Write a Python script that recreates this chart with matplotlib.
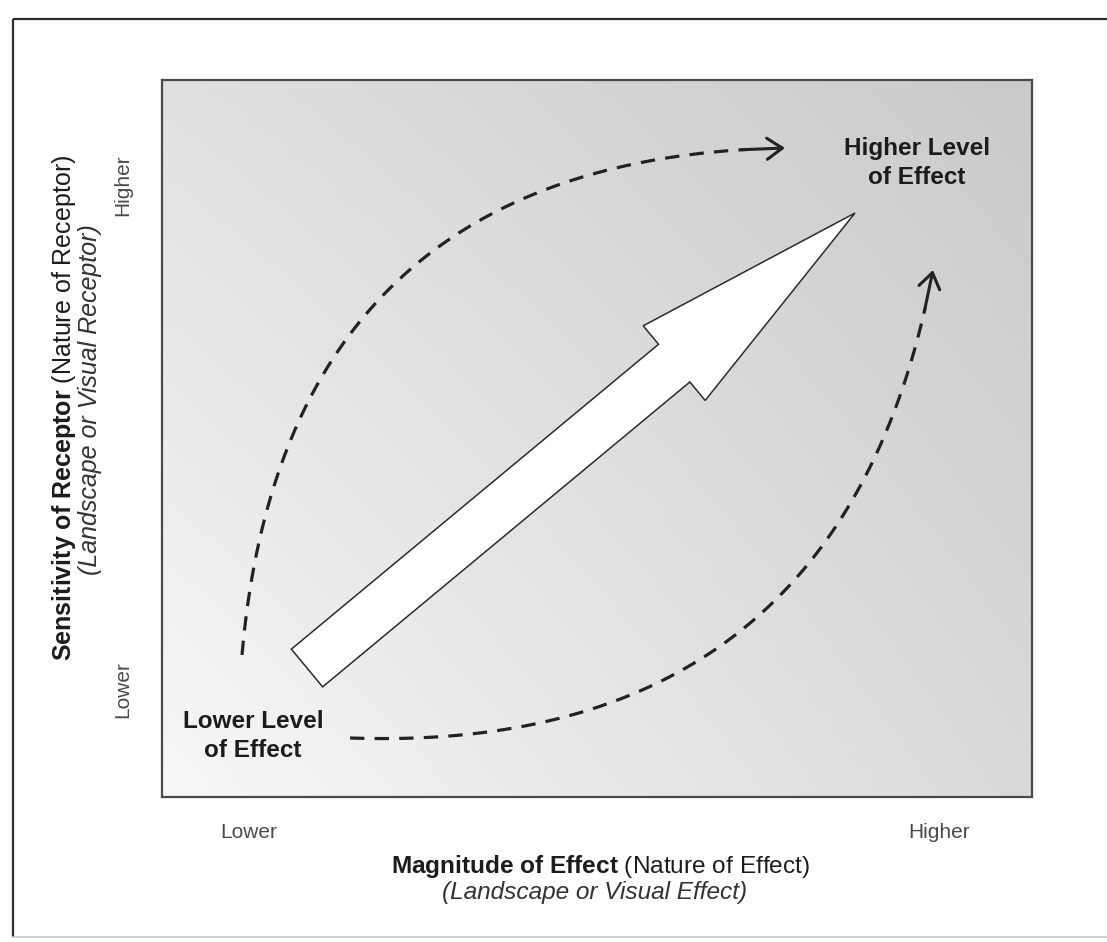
import numpy as np
import matplotlib
matplotlib.use("Agg")
import matplotlib.pyplot as plt
from matplotlib.patches import FancyArrow

plt.rcParams['font.family'] = ['Liberation Sans', 'DejaVu Sans']
plt.rcParams['mathtext.fontset'] = 'custom'
plt.rcParams['mathtext.rm'] = 'Liberation Sans'
plt.rcParams['mathtext.bf'] = 'Liberation Sans:bold'
plt.rcParams['mathtext.it'] = 'Liberation Sans:italic'

# wording of the diagram
x_ticks = ["Lower", "Higher"]
y_ticks = ["Lower", "Higher"]
x_title = r"$\mathbf{Magnitude\ of\ Effect}$ (Nature of Effect)"
x_sub = "(Landscape or Visual Effect)"
y_title = r"$\mathbf{Sensitivity\ of\ Receptor}$ (Nature of Receptor)"
y_sub = "(Landscape or Visual Receptor)"
corner_labels = ["Lower Level\nof Effect", "Higher Level\nof Effect"]

W, H = 1107, 942
fig = plt.figure(figsize=(W / 100, H / 100), dpi=100)

# background axes in pixel units (y down) for frame + text
bg = fig.add_axes([0, 0, 1, 1])
bg.set_xlim(0, W)
bg.set_ylim(H, 0)
bg.axis('off')

# outer frame: dark left/top, faint bottom, right edge cut off
bg.plot([13, 13], [19, 937], color='#2e2e2e', lw=1.6, solid_capstyle='butt')
bg.plot([13, W], [19, 19], color='#2e2e2e', lw=1.6, solid_capstyle='butt')
bg.plot([13, W], [937, 937], color='#c8c8c8', lw=1.2)

# plot box
x0, y0, x1, y1 = 162, 80, 1032, 797
bw, bh = x1 - x0, y1 - y0
ax = fig.add_axes([x0 / W, 1 - y1 / H, bw / W, bh / H])
ax.set_xlim(0, bw)
ax.set_ylim(0, bh)
ax.set_xticks([])
ax.set_yticks([])
for s in ax.spines.values():
    s.set_color('#4a4a4a')
    s.set_linewidth(1.6)

# diagonal grey gradient, light bottom-left -> darker top-right
U, V = np.meshgrid(np.linspace(0, 1, 200), np.linspace(0, 1, 200))
shade = 247 - 30 * U - 24 * V + 8 * U * V
ax.imshow(shade, cmap='gray', vmin=0, vmax=255, origin='lower',
          extent=(0, bw, 0, bh), aspect='auto', interpolation='bilinear')

# big hollow arrow
ax.add_patch(FancyArrow(145, 129, 548, 455, width=49, head_width=97,
                        head_length=235, length_includes_head=True,
                        fc='white', ec='#2b2b2b', lw=1.1, zorder=3))


def quad(p0, c, p1, n=300):
    t = np.linspace(0, 1, n)[:, None]
    p0, c, p1 = map(np.asarray, (p0, c, p1))
    return (1 - t) ** 2 * p0 + 2 * (1 - t) * t * c + t ** 2 * p1


curves = [((80, 142), (123, 640), (623, 649)),
          ((188, 59), (681, 42), (771, 527))]
for p0, c, p1 in curves:
    pts = quad(p0, c, p1)
    ax.plot(pts[:-12, 0], pts[:-12, 1], color='#222222', lw=2.3,
            linestyle=(0, (4.5, 3.2)), zorder=4)
    ax.annotate('', xy=p1, xytext=pts[-14],
                arrowprops=dict(arrowstyle='->,head_length=0.55,head_width=0.38',
                                lw=2.2, color='#222222', mutation_scale=20,
                                shrinkA=0, shrinkB=0), zorder=4)

# corner labels (drawn by the plot box axes, placed in pixel units)
ax.text(253, 736, corner_labels[0], transform=bg.transData, ha='center',
        va='center', fontsize=17.5, fontweight='bold', linespacing=1.35,
        color='#1c1c1c', zorder=5)
ax.text(917, 163, corner_labels[1], transform=bg.transData, ha='center',
        va='center', fontsize=17.5, fontweight='bold', linespacing=1.35,
        color='#1c1c1c', zorder=5)

# "tick" words
bg.text(249, 833, x_ticks[0], ha='center', va='center', fontsize=15, color='#4a4a4a')
bg.text(939, 833, x_ticks[1], ha='center', va='center', fontsize=15, color='#4a4a4a')
bg.text(123, 690, y_ticks[0], ha='center', va='center', fontsize=15,
        color='#4a4a4a', rotation=90)
bg.text(123, 185, y_ticks[1], ha='center', va='center', fontsize=15,
        color='#4a4a4a', rotation=90)

# axis titles
bg.text(600, 867, x_title, ha='center', va='center', fontsize=17.6, color='#1c1c1c')
bg.text(595, 892, x_sub, ha='center', va='center', fontsize=17.6,
        style='italic', color='#333333')
bg.text(64, 408, y_title, ha='center', va='center', fontsize=18,
        color='#1c1c1c', rotation=90)
bg.text(90, 400, y_sub, ha='center', va='center', fontsize=18,
        style='italic', color='#333333', rotation=90)

fig.savefig('out.png', dpi=100)
